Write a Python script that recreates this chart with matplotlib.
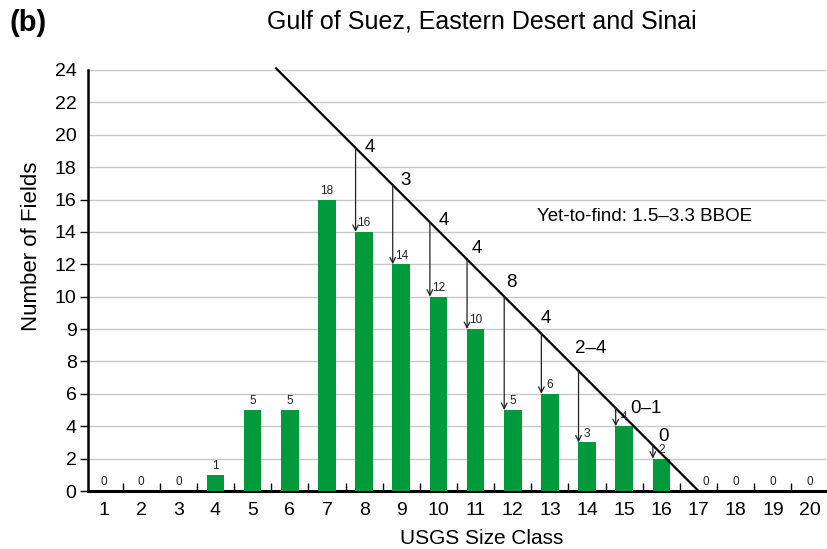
import matplotlib
matplotlib.use("Agg")
import matplotlib.pyplot as plt
import numpy as np

plt.rcParams['font.family'] = ['Liberation Sans', 'DejaVu Sans']

# ---- data ----
size_class = list(range(1, 21))
num_fields = [0, 0, 0, 1, 5, 5, 18, 16, 14, 12, 10, 5, 6, 3, 4, 2, 0, 0, 0, 0]
ytick_labels = ['0', '2', '4', '6', '8', '9', '10', '12', '14', '16', '18', '20', '22', '24']
# trend line (class, value) end points
line_x = [5.63, 17.0]
line_y = [26.1, 0.0]
arrow_classes = [8, 9, 10, 11, 12, 13, 14, 15, 16]
arrow_labels = ['4', '3', '4', '4', '8', '4', '2\u20134', '0\u20131', '0']
title = 'Gulf of Suez, Eastern Desert and Sinai'
note = 'Yet-to-find: 1.5\u20133.3 BBOE'

# ---- figure ----
fig = plt.figure(figsize=(8.27, 5.49), dpi=100)
ax = fig.add_axes([0.106, 0.1056, 0.8928, 0.767])

green = '#009a3d'
bar_w = 0.475
ax.bar(size_class, num_fields, width=bar_w, color=green, zorder=3)

for x, v in zip(size_class, num_fields):
    dx = 5 if (v == 0 and x == 17) else 0
    ax.annotate(str(v), (x, v), xytext=(dx, 2), textcoords='offset points',
                ha='center', va='bottom', fontsize=8.5, color='#222222', zorder=5)

# diagonal line
ax.plot(line_x, line_y, color='black', lw=1.6, zorder=4, clip_on=False)

def line_at(x):
    return np.interp(x, line_x, line_y)

label_offsets = [(10, 0), (9, 3), (10, 1.5), (7, 8), (5, 10), (3, 11), (9, 16), (22, 0), (8, 6.5)]
for c, lab, (dx, dy) in zip(arrow_classes, arrow_labels, label_offsets):
    ax_x = c - 0.23
    top = line_at(ax_x)
    ax.annotate('', xy=(ax_x, num_fields[c - 1]), xytext=(ax_x, top),
                arrowprops=dict(arrowstyle='->', lw=0.9, color='#222222',
                                shrinkA=0, shrinkB=0, mutation_scale=10),
                zorder=4)
    ax.annotate(lab, (ax_x, top), xytext=(dx, dy), textcoords='offset points',
                ha='center', va='center', fontsize=13.5, color='black', zorder=5)

ax.text(15.55, 16.95, note, ha='center', va='center', fontsize=13.5)

# axes formatting
ax.set_xlim(0.56, 20.43)
ax.set_ylim(0, 26)
yt = np.arange(0, 27, 2)
ax.set_yticks(yt)
ax.set_yticklabels(ytick_labels, fontsize=14)
for i, t in enumerate(ax.yaxis.get_major_ticks()):
    if i > 9:
        t.tick1line.set_visible(False)
ax.tick_params(axis='y', direction='out', length=6, width=1, pad=2)
ax.set_xticks(size_class)
ax.set_xticklabels([str(c) for c in size_class], fontsize=14)
ax.tick_params(axis='x', which='major', length=0, pad=8)
ax.set_xticks(np.arange(1.5, 20, 1), minor=True)
ax.tick_params(axis='x', which='minor', direction='in', length=6, width=1)

ax.yaxis.grid(True, color='#c8c8c8', lw=1)
ax.set_axisbelow(True)
for s in ['top', 'right']:
    ax.spines[s].set_visible(False)
ax.spines['left'].set_linewidth(1.8)
ax.spines['bottom'].set_linewidth(2.2)

ax.set_xlabel('USGS Size Class', fontsize=15, labelpad=7)
ax.xaxis.label.set_x(0.534)
ax.set_ylabel('Number of Fields', fontsize=16, labelpad=9)
ax.yaxis.label.set_y(0.582)

fig.text(0.582, 0.96, title, ha='center', va='center', fontsize=18)
fig.text(0.012, 0.958, '(b)', ha='left', va='center', fontsize=21, fontweight='bold')

fig.savefig('out.png', dpi=100)
